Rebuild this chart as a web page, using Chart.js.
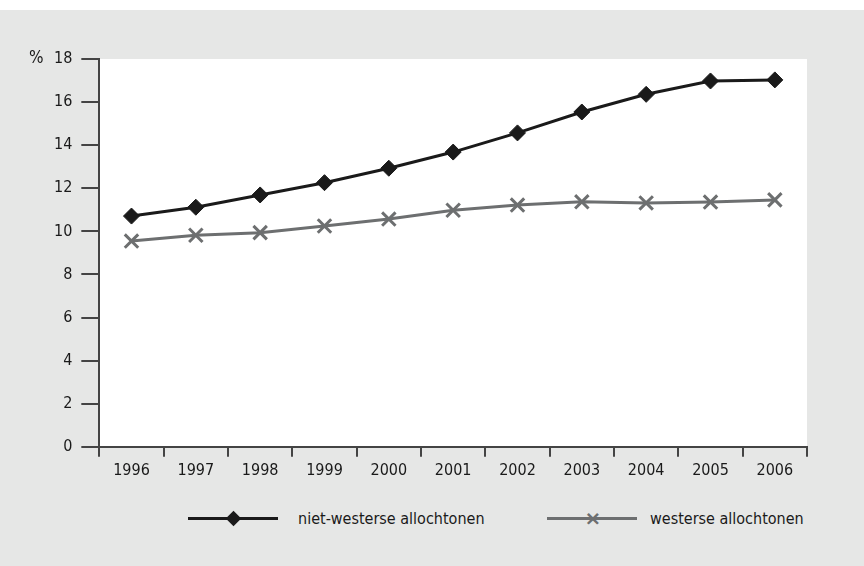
<!DOCTYPE html>
<html>
<head>
<meta charset="utf-8">
<script src="https://cdn.jsdelivr.net/npm/chart.js@4/dist/chart.umd.min.js"></script>
<style>
    html, body { margin: 0; padding: 0; }
    body {
        width: 864px;
        height: 566px;
        background: #e6e7e6;
        position: relative;
        overflow: hidden;
        font-family: 'DejaVu Sans Condensed', 'DejaVu Sans', sans-serif;
        font-stretch: condensed;
    }
    .top-strip { position: absolute; left: 0; top: 0; width: 864px; height: 10px; background: #fff; }
    .chart-container { position: absolute; left: 0; top: 10px; width: 864px; height: 474px; }
    .legend { position: absolute; top: 505px; left: 0; width: 864px; height: 26px; color: #1a1a1a; font-size: 16px; }
    .legend .item { position: absolute; top: 0; display: flex; align-items: center; height: 26px; }
    .legend .swatch { position: relative; width: 90px; height: 26px; margin-right: 20px; }
    .legend .swatch .line { position: absolute; left: 0; right: 0; top: 11.5px; height: 3px; }
    .legend .swatch .diamond {
        position: absolute; left: 38px; top: 6px; width: 11px; height: 11px;
        background: #1a1a1a; transform: rotate(45deg); transform-origin: center; margin-left: 2px; margin-top: 2px;
    }
    .legend .swatch .cross {
        position: absolute; left: 36px; top: 2px; width: 20px; height: 20px;
        color: #6d6f70; font: bold 20px 'DejaVu Sans', sans-serif; line-height: 22px; text-align: center;
    }
</style>
</head>
<body>
<div class="top-strip"></div>
<div class="chart-container">
    <canvas id="chart"></canvas>
</div>
<div class="legend">
    <div class="item" style="left:188px">
        <div class="swatch"><div class="line" style="background:#1a1a1a"></div><div class="diamond"></div></div>
        <span>niet-westerse allochtonen</span>
    </div>
    <div class="item" style="left:547px">
        <div class="swatch" style="margin-right:13px"><div class="line" style="background:#6d6f70"></div><div class="cross">×</div></div>
        <span>westerse allochtonen</span>
    </div>
</div>
<script>
const years = ['1996', '1997', '1998', '1999', '2000', '2001', '2002', '2003', '2004', '2005', '2006'];
const nietWesters = [10.71, 11.12, 11.69, 12.26, 12.93, 13.68, 14.57, 15.54, 16.36, 16.98, 17.03];
const westers = [9.55, 9.82, 9.94, 10.25, 10.57, 10.98, 11.22, 11.37, 11.32, 11.36, 11.46];
const yTicks = [0, 2, 4, 6, 8, 10, 12, 14, 16, 18];

document.addEventListener('DOMContentLoaded', () => {
    const fontFamily = "'DejaVu Sans Condensed', 'DejaVu Sans', sans-serif";

    // white plot area + "%" label next to the top tick
    const plotBackground = {
        id: 'plotBackground',
        beforeDraw(chart) {
            const { ctx, chartArea } = chart;
            ctx.save();
            ctx.fillStyle = '#ffffff';
            ctx.fillRect(chartArea.left, chartArea.top, chartArea.right - chartArea.left, chartArea.bottom - chartArea.top);
            ctx.restore();
        },
        afterDraw(chart) {
            const { ctx } = chart;
            const y = chart.scales.y.getPixelForValue(18);
            ctx.save();
            ctx.fillStyle = '#1a1a1a';
            ctx.font = '17px ' + fontFamily;
            ctx.textBaseline = 'middle';
            ctx.fillText('%', 29, y);
            ctx.restore();
        }
    };

    const ctx = document.getElementById('chart').getContext('2d');
    new Chart(ctx, {
        type: 'line',
        data: {
            labels: years,
            datasets: [{
                label: 'niet-westerse allochtonen',
                data: nietWesters,
                borderColor: '#1a1a1a',
                backgroundColor: '#1a1a1a',
                borderWidth: 3,
                pointStyle: 'rectRot',
                pointRadius: 8,
                pointBorderWidth: 1,
                tension: 0
            }, {
                label: 'westerse allochtonen',
                data: westers,
                borderColor: '#6d6f70',
                backgroundColor: '#6d6f70',
                borderWidth: 3,
                pointStyle: 'crossRot',
                pointRadius: 9.5,
                pointBorderWidth: 3,
                tension: 0
            }]
        },
        options: {
            responsive: true,
            maintainAspectRatio: false,
            animation: false,
            layout: {
                padding: { left: 45, right: 57, top: 49, bottom: 0 }
            },
            plugins: {
                legend: { display: false },
                tooltip: { enabled: false }
            },
            scales: {
                x: {
                    offset: true,
                    grid: {
                        offset: true,
                        drawOnChartArea: false,
                        drawTicks: true,
                        tickLength: 10,
                        color: '#444',
                        lineWidth: 2
                    },
                    border: { display: true, color: '#444', width: 2 },
                    ticks: {
                        color: '#1a1a1a',
                        padding: 4,
                        maxRotation: 0,
                        font: { size: 16, family: fontFamily }
                    }
                },
                y: {
                    min: 0,
                    max: 18,
                    afterBuildTicks: axis => {
                        axis.ticks = yTicks.map(v => ({ value: v }));
                    },
                    grid: {
                        drawOnChartArea: false,
                        drawTicks: true,
                        tickLength: 18,
                        color: '#444',
                        lineWidth: 2
                    },
                    border: { display: true, color: '#444', width: 2 },
                    ticks: {
                        color: '#1a1a1a',
                        padding: 9,
                        font: { size: 16, family: fontFamily }
                    }
                }
            }
        },
        plugins: [plotBackground]
    });
});
</script>
</body>
</html>
